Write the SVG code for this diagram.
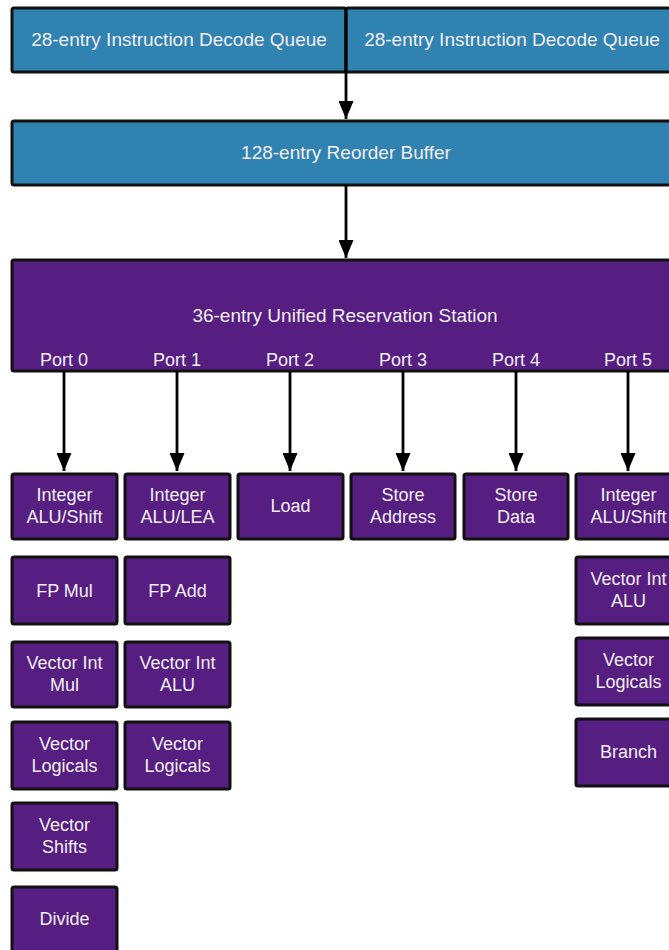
<svg xmlns="http://www.w3.org/2000/svg" width="669" height="950" viewBox="0 0 669 950">
<style>
.blue{fill:#3082b0;stroke:#111;stroke-width:3}
.purp{fill:#551e80;stroke:#111;stroke-width:3}
text{font-family:"Liberation Sans",Arial,Helvetica,sans-serif;font-size:18px;fill:#f2eef4;text-anchor:middle}
text.big{font-size:19px}
.conn line{stroke:#000;stroke-width:2.8}
</style>
<defs>
<marker id="ah" markerWidth="18" markerHeight="15" refX="18" refY="7.5" orient="auto" markerUnits="userSpaceOnUse" viewBox="0 0 18 15">
<path d="M0,0 L18,7.5 L0,15 Z" fill="#000"/>
</marker>
</defs>
<rect width="669" height="950" fill="#fff"/>
<g id="idq1"><rect class="blue" x="12" y="8" width="334" height="64" rx="2"/><text class="big" x="179" y="46">28-entry Instruction Decode Queue</text></g>
<g id="idq2"><rect class="blue" x="346" y="8" width="334" height="64" rx="2"/><text class="big" x="512" y="46">28-entry Instruction Decode Queue</text></g>
<g id="rob"><rect class="blue" x="12" y="121" width="670" height="64" rx="2"/><text class="big" x="346" y="159">128-entry Reorder Buffer</text></g>
<g id="rs"><rect class="purp" x="12" y="260" width="670" height="111" rx="2"/><text class="big" x="345" y="322">36-entry Unified Reservation Station</text>
<text x="64" y="366">Port 0</text><text x="177" y="366">Port 1</text><text x="290" y="366">Port 2</text><text x="403" y="366">Port 3</text><text x="516" y="366">Port 4</text><text x="628" y="366">Port 5</text></g>
<g class="conn" id="connectors">
<line x1="346" y1="8" x2="346" y2="119" marker-end="url(#ah)"/>
<line x1="346" y1="185" x2="346" y2="258" marker-end="url(#ah)"/>
<line x1="64" y1="371" x2="64" y2="471" marker-end="url(#ah)"/>
<line x1="177" y1="371" x2="177" y2="471" marker-end="url(#ah)"/>
<line x1="290" y1="371" x2="290" y2="471" marker-end="url(#ah)"/>
<line x1="403" y1="371" x2="403" y2="471" marker-end="url(#ah)"/>
<line x1="516" y1="371" x2="516" y2="471" marker-end="url(#ah)"/>
<line x1="628" y1="371" x2="628" y2="471" marker-end="url(#ah)"/>
</g>
<g id="p0_int"><rect class="purp" x="12" y="474" width="105" height="65" rx="2"/><text x="64.5" y="501">Integer</text><text x="64.5" y="523">ALU/Shift</text></g>
<g id="p0_fpmul"><rect class="purp" x="12" y="557" width="105" height="67" rx="2"/><text x="64.5" y="597">FP Mul</text></g>
<g id="p0_vimul"><rect class="purp" x="12" y="642" width="105" height="65" rx="2"/><text x="64.5" y="669">Vector Int</text><text x="64.5" y="691">Mul</text></g>
<g id="p0_vlog"><rect class="purp" x="12" y="722" width="105" height="67" rx="2"/><text x="64.5" y="750">Vector</text><text x="64.5" y="772">Logicals</text></g>
<g id="p0_vshift"><rect class="purp" x="12" y="803" width="105" height="67" rx="2"/><text x="64.5" y="831">Vector</text><text x="64.5" y="853">Shifts</text></g>
<g id="p0_div"><rect class="purp" x="12" y="887" width="105" height="67" rx="2"/><text x="64.5" y="925">Divide</text></g>
<g id="p1_int"><rect class="purp" x="125" y="474" width="105" height="65" rx="2"/><text x="177.5" y="501">Integer</text><text x="177.5" y="523">ALU/LEA</text></g>
<g id="p1_fpadd"><rect class="purp" x="125" y="557" width="105" height="67" rx="2"/><text x="177.5" y="597">FP Add</text></g>
<g id="p1_vialu"><rect class="purp" x="125" y="642" width="105" height="65" rx="2"/><text x="177.5" y="669">Vector Int</text><text x="177.5" y="691">ALU</text></g>
<g id="p1_vlog"><rect class="purp" x="125" y="722" width="105" height="67" rx="2"/><text x="177.5" y="750">Vector</text><text x="177.5" y="772">Logicals</text></g>
<g id="p2_load"><rect class="purp" x="238" y="474" width="105" height="65" rx="2"/><text x="290.5" y="512">Load</text></g>
<g id="p3_sa"><rect class="purp" x="351" y="474" width="104" height="65" rx="2"/><text x="403" y="501">Store</text><text x="403" y="523">Address</text></g>
<g id="p4_sd"><rect class="purp" x="464" y="474" width="104" height="65" rx="2"/><text x="516" y="501">Store</text><text x="516" y="523">Data</text></g>
<g id="p5_int"><rect class="purp" x="576" y="474" width="105" height="65" rx="2"/><text x="628.5" y="501">Integer</text><text x="628.5" y="523">ALU/Shift</text></g>
<g id="p5_vialu"><rect class="purp" x="576" y="557" width="105" height="67" rx="2"/><text x="628.5" y="585">Vector Int</text><text x="628.5" y="607">ALU</text></g>
<g id="p5_vlog"><rect class="purp" x="576" y="638" width="105" height="67" rx="2"/><text x="628.5" y="666">Vector</text><text x="628.5" y="688">Logicals</text></g>
<g id="p5_branch"><rect class="purp" x="576" y="719" width="105" height="67" rx="2"/><text x="628.5" y="758">Branch</text></g>
</svg>
